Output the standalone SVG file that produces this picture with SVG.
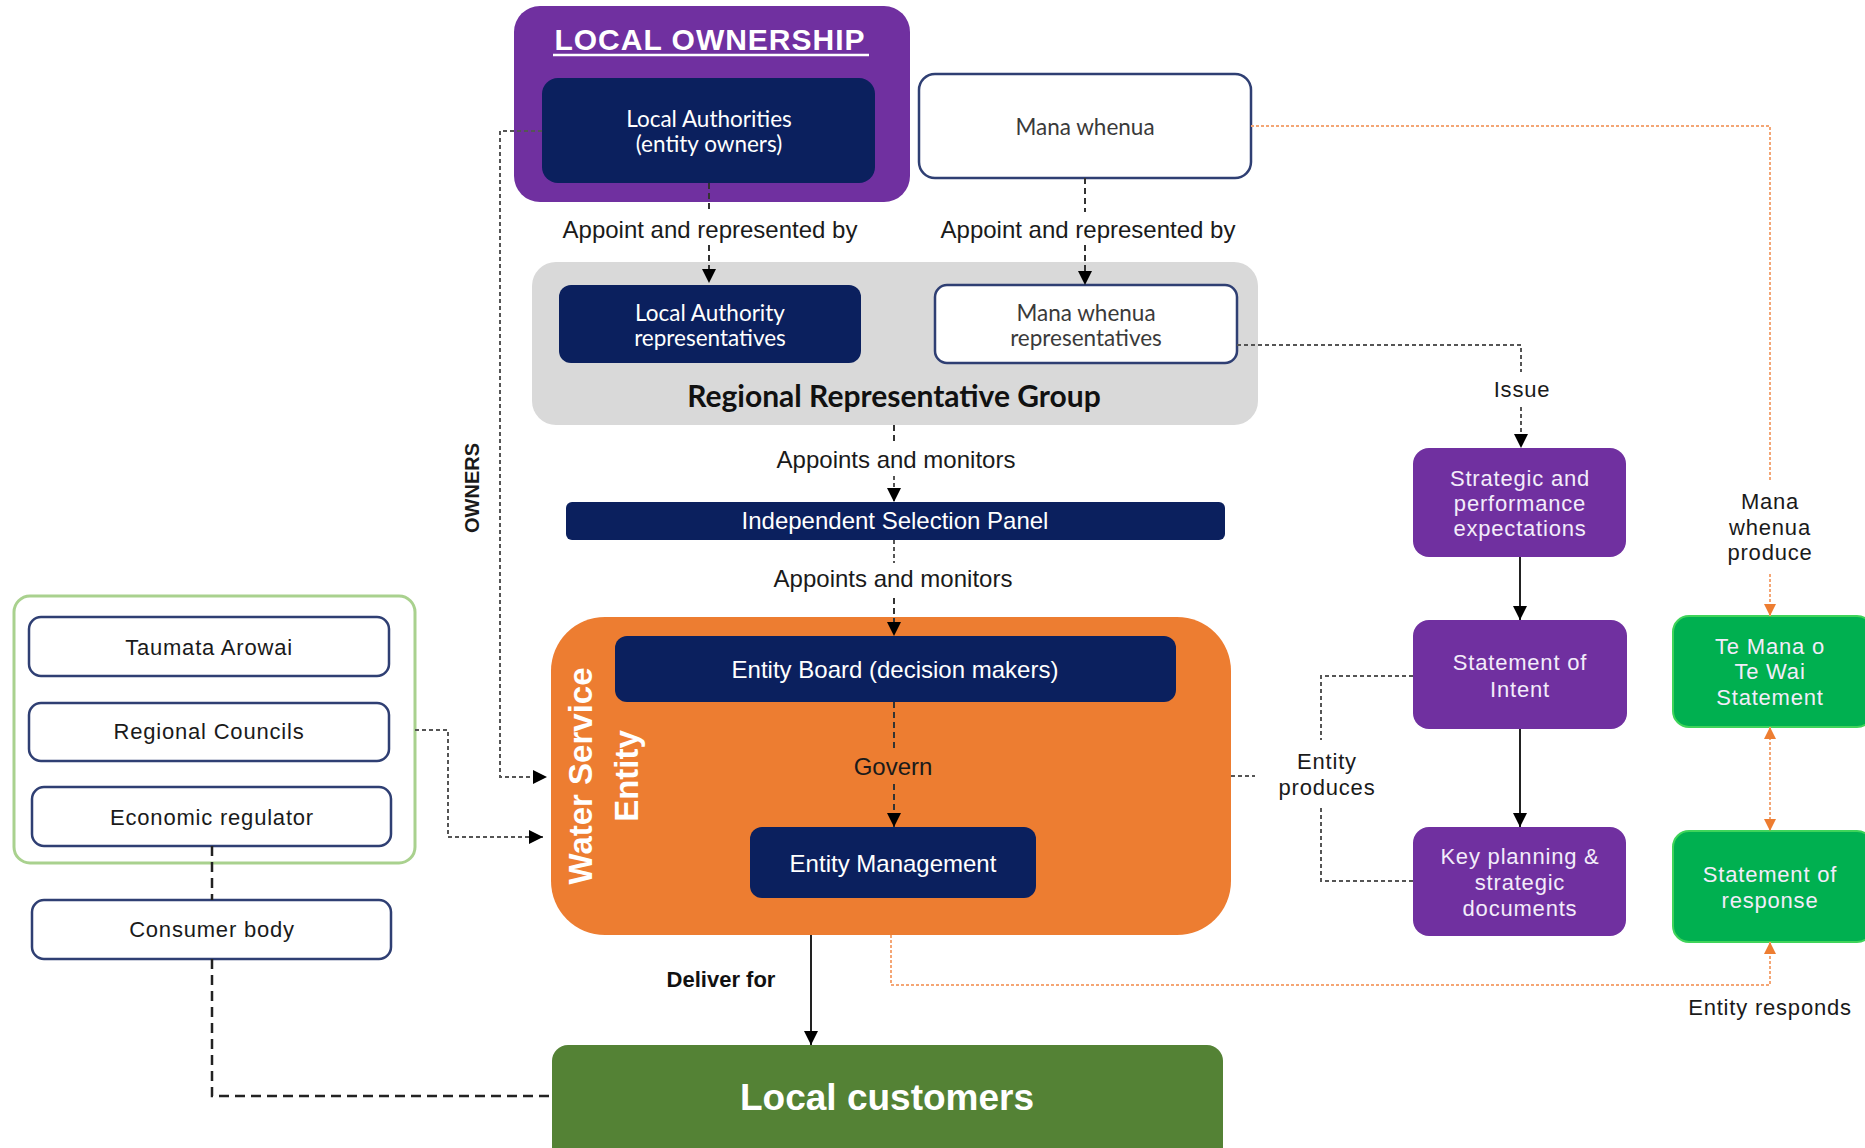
<svg xmlns="http://www.w3.org/2000/svg" width="1865" height="1148" viewBox="0 0 1865 1148">
<style>
.lbl{font-family:"Liberation Sans",Arial,sans-serif;font-size:22px;letter-spacing:0.8px;fill:#1a1a1a;text-anchor:middle}
.lbl2{font-family:"Liberation Sans",Arial,sans-serif;font-size:24px;fill:#1a1a1a;text-anchor:middle}
.cal{font-family:Lato,"Liberation Sans",sans-serif;font-size:22.5px;text-anchor:middle}
.wt{fill:#ffffff}
.dk{fill:#3a3a3a}
.navy{fill:#0b205e}
.wbox{fill:#ffffff;stroke:#2f3f73;stroke-width:2.5}
.pur{fill:#7030a0}
.grn{fill:#00b050;stroke:#3fd45a;stroke-width:2}
.ptxt{font-family:"Liberation Sans",Arial,sans-serif;font-size:22px;letter-spacing:0.8px;fill:#f3ecfa;text-anchor:middle}
.dash{fill:none;stroke:#333;stroke-width:2;stroke-dasharray:6 4}
.dot{fill:none;stroke:#555;stroke-width:2;stroke-dasharray:4 3}
.heavy{fill:none;stroke:#222;stroke-width:2.5;stroke-dasharray:10 6}
.solid{fill:none;stroke:#222;stroke-width:2}
.odot{fill:none;stroke:#f4a675;stroke-width:2;stroke-dasharray:3 2}
</style>
<defs>
<marker id="ah" viewBox="0 0 10 10" refX="10" refY="5" markerWidth="14" markerHeight="14" markerUnits="userSpaceOnUse" orient="auto"><path d="M0,0 L10,5 L0,10 z" fill="#000"/></marker>
<marker id="oh" viewBox="0 0 10 10" refX="10" refY="5" markerWidth="12" markerHeight="12" markerUnits="userSpaceOnUse" orient="auto-start-reverse"><path d="M0,0 L10,5 L0,10 z" fill="#ed7d31"/></marker>
</defs>

<g id="local-ownership">
<rect x="514" y="6" width="396" height="196" rx="26" class="pur"/>
<text x="710" y="50" font-family="'Liberation Sans',Arial,sans-serif" font-size="30" font-weight="bold" letter-spacing="1" fill="#ffffff" text-anchor="middle">LOCAL OWNERSHIP</text>
<line x1="553" y1="55" x2="869" y2="55" stroke="#ffffff" stroke-width="2.5"/>
</g>
<g id="local-authorities">
<rect x="542" y="78" width="333" height="105" rx="16" class="navy"/>
<text class="cal wt"><tspan x="709" y="127">Local Authorities</tspan><tspan x="709" y="152">(entity owners)</tspan></text>
</g>
<g id="mana-whenua">
<rect x="919" y="74" width="332" height="104" rx="16" class="wbox"/>
<text class="cal dk" x="1085" y="135" font-size="23">Mana whenua</text>
</g>

<g id="regional-representative-group">
<rect x="532" y="262" width="726" height="163" rx="24" fill="#d9d9d9"/>
<text x="894" y="407" font-family="Lato,'Liberation Sans',sans-serif" font-size="30" font-weight="bold" fill="#111" text-anchor="middle">Regional Representative Group</text>
</g>
<g id="la-reps">
<rect x="559" y="285" width="302" height="78" rx="12" class="navy"/>
<text class="cal wt"><tspan x="710" y="321">Local Authority</tspan><tspan x="710" y="346">representatives</tspan></text>
</g>
<g id="mw-reps">
<rect x="935" y="285" width="302" height="78" rx="12" class="wbox"/>
<text class="cal dk"><tspan x="1086" y="321">Mana whenua</tspan><tspan x="1086" y="346">representatives</tspan></text>
</g>

<g id="selection-panel">
<rect x="566" y="502" width="659" height="38" rx="6" class="navy"/>
<text class="lbl2 wt" x="895" y="529" font-size="22">Independent Selection Panel</text>
</g>

<g id="water-service-entity">
<rect x="551" y="617" width="680" height="318" rx="54" fill="#ed7d31"/>
<text transform="translate(592,776) rotate(-90)" font-family="'Liberation Sans',Arial,sans-serif" font-size="33" font-weight="bold" fill="#ffffff" text-anchor="middle">Water Service</text>
<text transform="translate(638,776) rotate(-90)" font-family="'Liberation Sans',Arial,sans-serif" font-size="33" font-weight="bold" fill="#ffffff" text-anchor="middle">Entity</text>
</g>
<g id="entity-board">
<rect x="615" y="636" width="561" height="66" rx="12" class="navy"/>
<text class="lbl2 wt" x="895" y="678" font-size="23">Entity Board (decision makers)</text>
</g>
<g id="entity-management">
<rect x="750" y="827" width="286" height="71" rx="12" class="navy"/>
<text class="lbl2 wt" x="893" y="872" font-size="23">Entity Management</text>
</g>

<g id="regulators">
<rect x="14" y="596" width="401" height="267" rx="16" fill="#ffffff" stroke="#a9d18e" stroke-width="3"/>
</g>
<g id="taumata-arowai">
<rect x="29" y="617" width="360" height="59" rx="12" class="wbox"/>
<text class="lbl" x="209" y="655">Taumata Arowai</text>
</g>
<g id="regional-councils">
<rect x="29" y="703" width="360" height="58" rx="12" class="wbox"/>
<text class="lbl" x="209" y="739">Regional Councils</text>
</g>
<g id="economic-regulator">
<rect x="32" y="787" width="359" height="59" rx="12" class="wbox"/>
<text class="lbl" x="212" y="825">Economic regulator</text>
</g>
<g id="consumer-body">
<rect x="32" y="900" width="359" height="59" rx="12" class="wbox"/>
<text class="lbl" x="212" y="937">Consumer body</text>
</g>

<g id="local-customers">
<rect x="552" y="1045" width="671" height="125" rx="16" fill="#548235"/>
<text x="887" y="1110" font-family="'Liberation Sans',Arial,sans-serif" font-size="37" font-weight="bold" fill="#ffffff" text-anchor="middle">Local customers</text>
</g>

<g id="strategic-expectations">
<rect x="1413" y="448" width="213" height="109" rx="16" class="pur"/>
<text class="ptxt"><tspan x="1520" y="486">Strategic and</tspan><tspan x="1520" y="511">performance</tspan><tspan x="1520" y="536">expectations</tspan></text>
</g>
<g id="statement-of-intent">
<rect x="1413" y="620" width="214" height="109" rx="16" class="pur"/>
<text class="ptxt"><tspan x="1520" y="670">Statement of</tspan><tspan x="1520" y="697">Intent</tspan></text>
</g>
<g id="key-planning">
<rect x="1413" y="827" width="213" height="109" rx="16" class="pur"/>
<text class="ptxt"><tspan x="1520" y="864">Key planning &amp;</tspan><tspan x="1520" y="890">strategic</tspan><tspan x="1520" y="916">documents</tspan></text>
</g>
<g id="te-mana-o-te-wai">
<rect x="1673" y="616" width="200" height="111" rx="16" class="grn"/>
<text class="ptxt" fill="#ffffff"><tspan x="1770" y="654">Te Mana  o</tspan><tspan x="1770" y="679">Te Wai</tspan><tspan x="1770" y="705">Statement</tspan></text>
</g>
<g id="statement-of-response">
<rect x="1673" y="831" width="200" height="111" rx="16" class="grn"/>
<text class="ptxt"><tspan x="1770" y="882">Statement of</tspan><tspan x="1770" y="908">response</tspan></text>
</g>

<g id="connectors">
<path class="dash" d="M709,183 V212"/>
<path class="dash" d="M709,245 V283" marker-end="url(#ah)"/>
<text class="lbl2" x="710" y="238">Appoint and represented by</text>
<path class="dash" d="M1085,178 V212"/>
<path class="dash" d="M1085,245 V285" marker-end="url(#ah)"/>
<text class="lbl2" x="1088" y="238">Appoint and represented by</text>

<path class="dash" d="M894,425 V445"/>
<text class="lbl2" x="896" y="468">Appoints and monitors</text>
<path class="dot" d="M894,476 V502" marker-end="url(#ah)"/>
<path class="dot" d="M894,540 V563"/>
<text class="lbl2" x="893" y="587">Appoints and monitors</text>
<path class="dash" d="M894,598 V636" marker-end="url(#ah)"/>
<path class="dash" d="M894,702 V752" stroke="#5a3a20"/>
<text class="lbl2" x="893" y="775">Govern</text>
<path class="dash" d="M894,784 V827" stroke="#5a3a20" marker-end="url(#ah)"/>

<path class="dot" d="M542,131 H500 V777 H547" marker-end="url(#ah)"/>
<text transform="translate(479,488) rotate(-90)" font-family="'Liberation Sans',Arial,sans-serif" font-size="20" font-weight="bold" fill="#1a1a1a" text-anchor="middle">OWNERS</text>
<path class="dot" d="M415,730 H448 V837 H543" marker-end="url(#ah)"/>

<path class="heavy" d="M212,846 V900"/>
<path class="heavy" d="M212,959 V1096 H552"/>

<path class="solid" d="M811,935 V1045" marker-end="url(#ah)"/>
<text x="721" y="987" font-family="'Liberation Sans',Arial,sans-serif" font-size="22" font-weight="bold" fill="#111" text-anchor="middle">Deliver for</text>

<path class="odot" d="M891,935 V985 H1770 V942" marker-end="url(#oh)"/>
<text class="lbl" x="1770" y="1015">Entity responds</text>
<path class="odot" d="M1251,126 H1770 V480"/>
<text class="lbl"><tspan x="1770" y="509">Mana</tspan><tspan x="1770" y="535">whenua</tspan><tspan x="1770" y="560">produce</tspan></text>
<path class="odot" d="M1770,574 V616" marker-end="url(#oh)"/>
<path class="odot" d="M1770,727 V831" marker-start="url(#oh)" marker-end="url(#oh)"/>

<path class="dot" d="M1237,345 H1521 V372"/>
<text class="lbl" x="1522" y="397">Issue</text>
<path class="dot" d="M1521,407 V448" marker-end="url(#ah)"/>
<path class="solid" d="M1520,557 V620" stroke="#555" marker-end="url(#ah)"/>
<path class="solid" d="M1520,729 V827" stroke="#555" marker-end="url(#ah)"/>

<path class="dot" d="M1231,776 H1255"/>
<path class="dot" d="M1413,676 H1321 V740"/>
<path class="dot" d="M1321,808 V881 H1413"/>
<text class="lbl"><tspan x="1327" y="769">Entity</tspan><tspan x="1327" y="795">produces</tspan></text>
</g>
</svg>
